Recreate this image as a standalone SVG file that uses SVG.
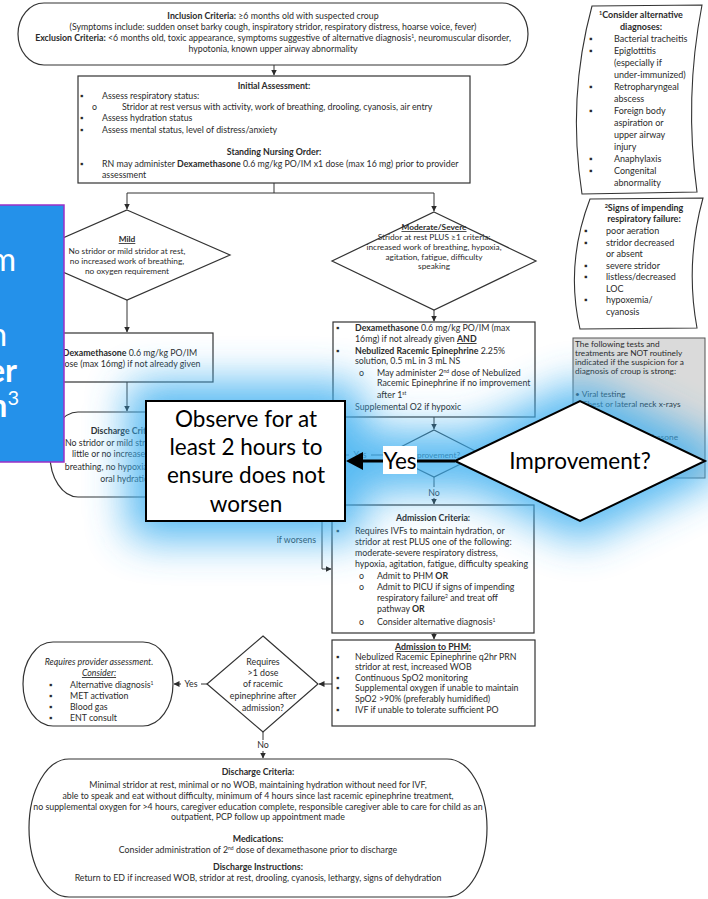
<svg xmlns="http://www.w3.org/2000/svg" width="708" height="899" viewBox="0 0 708 899">
<defs>
  <marker id="ah" markerWidth="6" markerHeight="6" refX="5.5" refY="3" orient="auto" markerUnits="userSpaceOnUse">
    <path d="M0,0 L6,3 L0,6 z" fill="#2b2b2b"/>
  </marker>
  <filter id="glow" x="-50%" y="-100%" width="200%" height="300%">
    <feGaussianBlur stdDeviation="21"/>
  </filter>
  <style>
    text { font-family: Lato, "Liberation Sans", sans-serif; font-size: 8.8px; fill: #2b2b2b; }
    .c { text-anchor: middle; }
    .e { text-anchor: end; }
    .b { font-weight: bold; }
    .u { text-decoration: underline; }
    .i { font-style: italic; }
    .dm { font-size: 8.3px; }
    .box { fill: #fff; stroke: #333; stroke-width: 1.2; }
    .tape { fill: #fff; stroke: #333; stroke-width: 1.1; }
    .ln { fill: none; stroke: #333; stroke-width: 1; }
    .arr { fill: none; stroke: #333; stroke-width: 1; marker-end: url(#ah); }
    .lbl { fill: #fff; }
    .big { font-size: 22.5px; fill: #000; }
    .side { font-size: 9px; }
    .note { font-size: 8.3px; }
    .ov { fill: #fff; stroke: #000; stroke-width: 2; }
    .halo { fill: #3aaef0; stroke: #3aaef0; stroke-width: 38; stroke-linejoin: round; }
    .banner { font-size: 32px; fill: #fff; text-anchor: end; }
  </style>
</defs>
<rect width="708" height="899" fill="#fff"/>

<!-- connectors of the pathway -->
<g id="connectors">
  <path class="arr" d="M274,65 V75"/>
  <path class="ln" d="M274,183 V193 M127,193 H434"/>
  <path class="arr" d="M127,193 V209"/>
  <path class="arr" d="M434,193 V211"/>
  <path class="arr" d="M127,300 V332"/>
  <path class="arr" d="M127,382 V411"/>
  <path class="arr" d="M434,310 V321"/>
  <path class="arr" d="M434,417 V429"/>
  <path class="arr" d="M387,455 H205"/>
  <path class="arr" d="M434,477 V504"/>
  <path class="arr" d="M205,472 H322 V569 H331"/>
  <path class="arr" d="M434,633 V639"/>
  <path class="arr" d="M332,684 H319"/>
  <path class="arr" d="M207,684 H174"/>
  <path class="arr" d="M263,732 V758"/>
  <rect class="lbl" x="349" y="450" width="22" height="10"/>
  <text x="360" y="458" class="c">Yes</text>
  <rect class="lbl" x="426" y="487" width="16" height="11"/>
  <text x="434" y="496" class="c">No</text>
  <text x="316" y="543" class="e">if worsens</text>
  <rect class="lbl" x="181" y="678" width="20" height="11"/>
  <text x="191" y="687" class="c">Yes</text>
  <rect class="lbl" x="255" y="740" width="16" height="11"/>
  <text x="263" y="748" class="c">No</text>
</g>

<!-- inclusion / exclusion -->
<g id="n-inclusion">
  <rect class="box" x="18" y="3" width="510" height="62" rx="26" ry="31"/>
  <text x="273" y="19" class="c"><tspan class="b">Inclusion Criteria:</tspan> ≥6 months old with suspected croup</text>
  <text x="273" y="30" class="c">(Symptoms include: sudden onset barky cough, inspiratory stridor, respiratory distress, hoarse voice, fever)</text>
  <text x="273" y="41" class="c"><tspan class="b">Exclusion Criteria:</tspan> &lt;6 months old, toxic appearance, symptoms suggestive of alternative diagnosis<tspan baseline-shift="super" font-size="5">1</tspan>, neuromuscular disorder,</text>
  <text x="273" y="52" class="c">hypotonia, known upper airway abnormality</text>
</g>

<g id="n-initial">
  <rect class="box" x="78" y="76" width="392" height="107"/>
  <text x="274" y="89" class="c b">Initial Assessment:</text>
  <text x="80" y="99">▪</text><text x="102" y="99">Assess respiratory status:</text>
  <text x="92" y="110">o</text><text x="122" y="110">Stridor at rest versus with activity, work of breathing, drooling, cyanosis, air entry</text>
  <text x="80" y="121">▪</text><text x="102" y="121">Assess hydration status</text>
  <text x="80" y="133">▪</text><text x="102" y="133">Assess mental status, level of distress/anxiety</text>
  <text x="274" y="155" class="c b">Standing Nursing Order:</text>
  <text x="80" y="167">▪</text><text x="102" y="167">RN may administer  <tspan class="b">Dexamethasone</tspan> 0.6 mg/kg PO/IM x1 dose (max 16 mg) prior to provider</text>
  <text x="102" y="178">assessment</text>
</g>

<g id="n-mild">
  <polygon class="box" points="127,210 230,255 127,300 24,255"/>
  <text x="127" y="242" class="c b u dm">Mild</text>
  <text x="127" y="254" class="c dm">No stridor or mild stridor at rest,</text>
  <text x="127" y="264" class="c dm">no increased work of breathing,</text>
  <text x="127" y="274" class="c dm">no oxygen requirement</text>
</g>

<g id="n-mild-dex">
  <rect class="box" x="41" y="333" width="172" height="49"/>
  <text x="130" y="356" class="c"><tspan class="b">Dexamethasone</tspan> 0.6 mg/kg PO/IM</text>
  <text x="130" y="367" class="c">dose (max 16mg) if not already given</text>
</g>

<g id="n-mild-discharge">
  <rect class="box" x="50" y="412" width="154" height="85" rx="28" ry="42"/>
  <text x="127" y="434" class="c b">Discharge Criteria:</text>
  <text x="127" y="446" class="c">No stridor or mild stridor at rest,</text>
  <text x="127" y="457" class="c">little or no increased work of</text>
  <text x="127" y="470" class="c">breathing, no hypoxia, tolerating</text>
  <text x="127" y="482" class="c">oral hydration</text>
</g>

<g id="n-moderate">
  <polygon class="box" points="434,212 536,261 434,310 332,261"/>
  <text x="434" y="230" class="c b u dm">Moderate/Severe</text>
  <text x="434" y="240" class="c dm">Stridor at rest PLUS ≥1 criteria:</text>
  <text x="434" y="250" class="c dm">increased work of breathing, hypoxia,</text>
  <text x="434" y="259.5" class="c dm">agitation, fatigue, difficulty</text>
  <text x="434" y="269" class="c dm">speaking</text>
</g>

<g id="n-moderate-tx">
  <rect class="box" x="333" y="322" width="202" height="95"/>
  <text x="336" y="331">▪</text><text x="355" y="331"><tspan class="b">Dexamethasone</tspan> 0.6 mg/kg PO/IM (max</text>
  <text x="355" y="342">16mg) if not already given <tspan class="b u">AND</tspan></text>
  <text x="336" y="354">▪</text><text x="355" y="354"><tspan class="b">Nebulized Racemic Epinephrine</tspan> 2.25%</text>
  <text x="355" y="364">solution, 0.5 mL in 3 mL NS</text>
  <text x="359" y="376">o</text><text x="377" y="376">May administer 2<tspan baseline-shift="super" font-size="5">nd</tspan> dose of Nebulized</text>
  <text x="377" y="386">Racemic Epinephrine if no improvement</text>
  <text x="377" y="398">after 1<tspan baseline-shift="super" font-size="5">st</tspan></text>
  <text x="355" y="410">Supplemental O2 if hypoxic</text>
</g>

<g id="n-improve-small">
  <polygon class="box" points="434,430 481,454 434,477 387,454"/>
  <text x="434" y="458" class="c dm">Improvement?</text>
</g>

<g id="n-admission">
  <rect class="box" x="332" y="505" width="202" height="128"/>
  <text x="433" y="521" class="c b">Admission Criteria:</text>
  <text x="336" y="534">▪</text><text x="355" y="534">Requires IVFs to maintain hydration, or</text>
  <text x="355" y="545">stridor at rest PLUS one of the following:</text>
  <text x="355" y="556">moderate-severe respiratory distress,</text>
  <text x="355" y="567">hypoxia, agitation, fatigue, difficulty speaking</text>
  <text x="359" y="579">o</text><text x="377" y="579">Admit to PHM <tspan class="b">OR</tspan></text>
  <text x="359" y="590">o</text><text x="377" y="590">Admit to PICU if signs of impending</text>
  <text x="377" y="601">respiratory failure<tspan baseline-shift="super" font-size="5">2</tspan> and treat off</text>
  <text x="377" y="612">pathway <tspan class="b">OR</tspan></text>
  <text x="359" y="625">o</text><text x="377" y="625">Consider alternative diagnosis<tspan baseline-shift="super" font-size="5">1</tspan></text>
</g>

<g id="n-phm">
  <rect class="box" x="332" y="640" width="203" height="86"/>
  <text x="433" y="650" class="c b u">Admission to PHM:</text>
  <text x="336" y="660">▪</text><text x="355" y="660">Nebulized Racemic Epinephrine q2hr PRN</text>
  <text x="355" y="670">stridor at rest, increased WOB</text>
  <text x="336" y="681">▪</text><text x="355" y="681">Continuous SpO2 monitoring</text>
  <text x="336" y="691">▪</text><text x="355" y="691">Supplemental oxygen if unable to maintain</text>
  <text x="355" y="702">SpO2 &gt;90% (preferably humidified)</text>
  <text x="336" y="713">▪</text><text x="355" y="713">IVF if unable to tolerate sufficient PO</text>
</g>

<g id="n-requires">
  <polygon class="box" points="263,636 318,684 263,732 207,684"/>
  <text x="263" y="665" class="c">Requires</text>
  <text x="263" y="676" class="c">&gt;1 dose</text>
  <text x="263" y="687" class="c">of racemic</text>
  <text x="263" y="699" class="c">epinephrine after</text>
  <text x="263" y="711" class="c">admission?</text>
</g>

<g id="n-provider">
  <rect class="box" x="23" y="642" width="150" height="84" rx="30" ry="42"/>
  <text x="99" y="665" class="c i">Requires provider assessment.</text>
  <text x="99" y="676" class="c i u">Consider:</text>
  <text x="49" y="688">▪</text><text x="70" y="688">Alternative diagnosis<tspan baseline-shift="super" font-size="5">1</tspan></text>
  <text x="49" y="699">▪</text><text x="70" y="699">MET activation</text>
  <text x="49" y="710">▪</text><text x="70" y="710">Blood gas</text>
  <text x="49" y="721">▪</text><text x="70" y="721">ENT consult</text>
</g>

<g id="n-discharge">
  <rect class="box" x="29" y="759" width="458" height="138" rx="40" ry="69"/>
  <text x="258" y="775" class="c b">Discharge Criteria:</text>
  <text x="258" y="788" class="c">Minimal stridor at rest, minimal or no WOB, maintaining hydration without need for IVF,</text>
  <text x="258" y="799" class="c">able to speak and eat without difficulty, minimum of 4 hours since last racemic epinephrine treatment,</text>
  <text x="258" y="810" class="c">no supplemental oxygen for &gt;4 hours, caregiver education complete, responsible caregiver able to care for child as an</text>
  <text x="258" y="820" class="c">outpatient, PCP follow up appointment made</text>
  <text x="258" y="842" class="c b">Medications:</text>
  <text x="258" y="853" class="c">Consider administration of 2<tspan baseline-shift="super" font-size="5">nd</tspan> dose of dexamethasone prior to discharge</text>
  <text x="258" y="870" class="c b">Discharge Instructions:</text>
  <text x="258" y="881" class="c">Return to ED if increased WOB, stridor at rest, drooling, cyanosis, lethargy, signs of dehydration</text>
</g>

<!-- side notes -->
<g id="n-alt-dx">
  <path class="tape" d="M592,6 L702,5 Q684,98 697,192 L582,194 Q567,98 592,6 Z"/>
  <text x="641" y="18" class="c b side"><tspan baseline-shift="super" font-size="5.5">1</tspan>Consider alternative</text>
  <text x="641" y="30" class="c b side">diagnoses:</text>
  <text x="589" y="42" class="side">▪</text><text x="614" y="42" class="side">Bacterial tracheitis</text>
  <text x="589" y="54" class="side">▪</text><text x="614" y="54" class="side">Epiglottitis</text>
  <text x="614" y="66" class="side">(especially if</text>
  <text x="614" y="78" class="side">under-immunized)</text>
  <text x="589" y="90" class="side">▪</text><text x="614" y="90" class="side">Retropharyngeal</text>
  <text x="614" y="102" class="side">abscess</text>
  <text x="589" y="114" class="side">▪</text><text x="614" y="114" class="side">Foreign body</text>
  <text x="614" y="126" class="side">aspiration or</text>
  <text x="614" y="138" class="side">upper airway</text>
  <text x="614" y="150" class="side">injury</text>
  <text x="589" y="162" class="side">▪</text><text x="614" y="162" class="side">Anaphylaxis</text>
  <text x="589" y="174" class="side">▪</text><text x="614" y="174" class="side">Congenital</text>
  <text x="614" y="186" class="side">abnormality</text>
</g>

<g id="n-resp-failure">
  <path class="tape" d="M590,199 L703,198 Q685,263 697,328 L580,329 Q565,264 590,199 Z"/>
  <text x="644" y="211" class="c b side"><tspan baseline-shift="super" font-size="5.5">2</tspan>Signs of impending</text>
  <text x="644" y="222" class="c b side">respiratory failure:</text>
  <text x="584" y="234" class="side">▪</text><text x="606" y="234" class="side">poor aeration</text>
  <text x="584" y="245.5" class="side">▪</text><text x="606" y="245.5" class="side">stridor decreased</text>
  <text x="606" y="257" class="side">or absent</text>
  <text x="584" y="268.5" class="side">▪</text><text x="606" y="268.5" class="side">severe stridor</text>
  <text x="584" y="280" class="side">▪</text><text x="606" y="280" class="side">listless/decreased</text>
  <text x="606" y="291.5" class="side">LOC</text>
  <text x="584" y="303" class="side">▪</text><text x="606" y="303" class="side">hypoxemia/</text>
  <text x="606" y="314.5" class="side">cyanosis</text>
</g>

<g id="n-not-indicated">
  <rect x="573" y="338" width="132" height="140" fill="#dadada" stroke="#555" stroke-width="1"/>
  <text x="575" y="347" class="note">The following tests and</text>
  <text x="575" y="356" class="note">treatments are NOT routinely</text>
  <text x="575" y="365" class="note">indicated if the suspicion for a</text>
  <text x="575" y="374" class="note">diagnosis of croup is strong:</text>
  <text x="575" y="397" class="note">• Viral testing</text>
  <text x="575" y="407" class="note">• Chest or lateral neck x-rays</text>
  <text x="575" y="440" class="note">• Nebulized dexamethasone</text>
</g>

<!-- left banner, mostly off the page -->
<g id="n-banner">
  <rect x="-2" y="205" width="66" height="257" fill="#2491ea" stroke="#9b30c8" stroke-width="1.5"/>
  <text x="16" y="271" class="banner">m</text>
  <text x="7" y="346" class="banner">n</text>
  <text x="17" y="382" class="banner b">er</text>
  <text x="19" y="417" class="banner b">n<tspan font-weight="normal" font-size="20" dy="-12">3</tspan></text>
</g>

<!-- highlighted observation callout -->
<g filter="url(#glow)" opacity="0.85">
  <rect class="halo" x="146" y="401" width="199" height="120"/>
  <rect class="halo" x="345" y="450" width="110" height="22"/>
  <polygon class="halo" points="455,461 580,401 705,461 580,521"/>
</g>

<g id="n-observe">
  <rect class="ov" x="146" y="401" width="199" height="120"/>
  <text x="246" y="427" class="c big">Observe for at</text>
  <text x="246" y="455" class="c big">least 2 hours to</text>
  <text x="246" y="483" class="c big">ensure does not</text>
  <text x="246" y="512" class="c big">worsen</text>
</g>

<g id="callout-connector">
  <line x1="455" y1="461" x2="362" y2="461" stroke="#000" stroke-width="3"/>
  <polygon points="346,461 363,452 363,470" fill="#000"/>
  <rect x="383" y="446" width="34" height="28" fill="#fff"/>
  <text x="400" y="469" class="c big">Yes</text>
</g>

<g id="n-improvement">
  <polygon class="ov" points="455,461 580,401 705,461 580,521"/>
  <text x="580" y="469" class="c big">Improvement?</text>
</g>
</svg>
